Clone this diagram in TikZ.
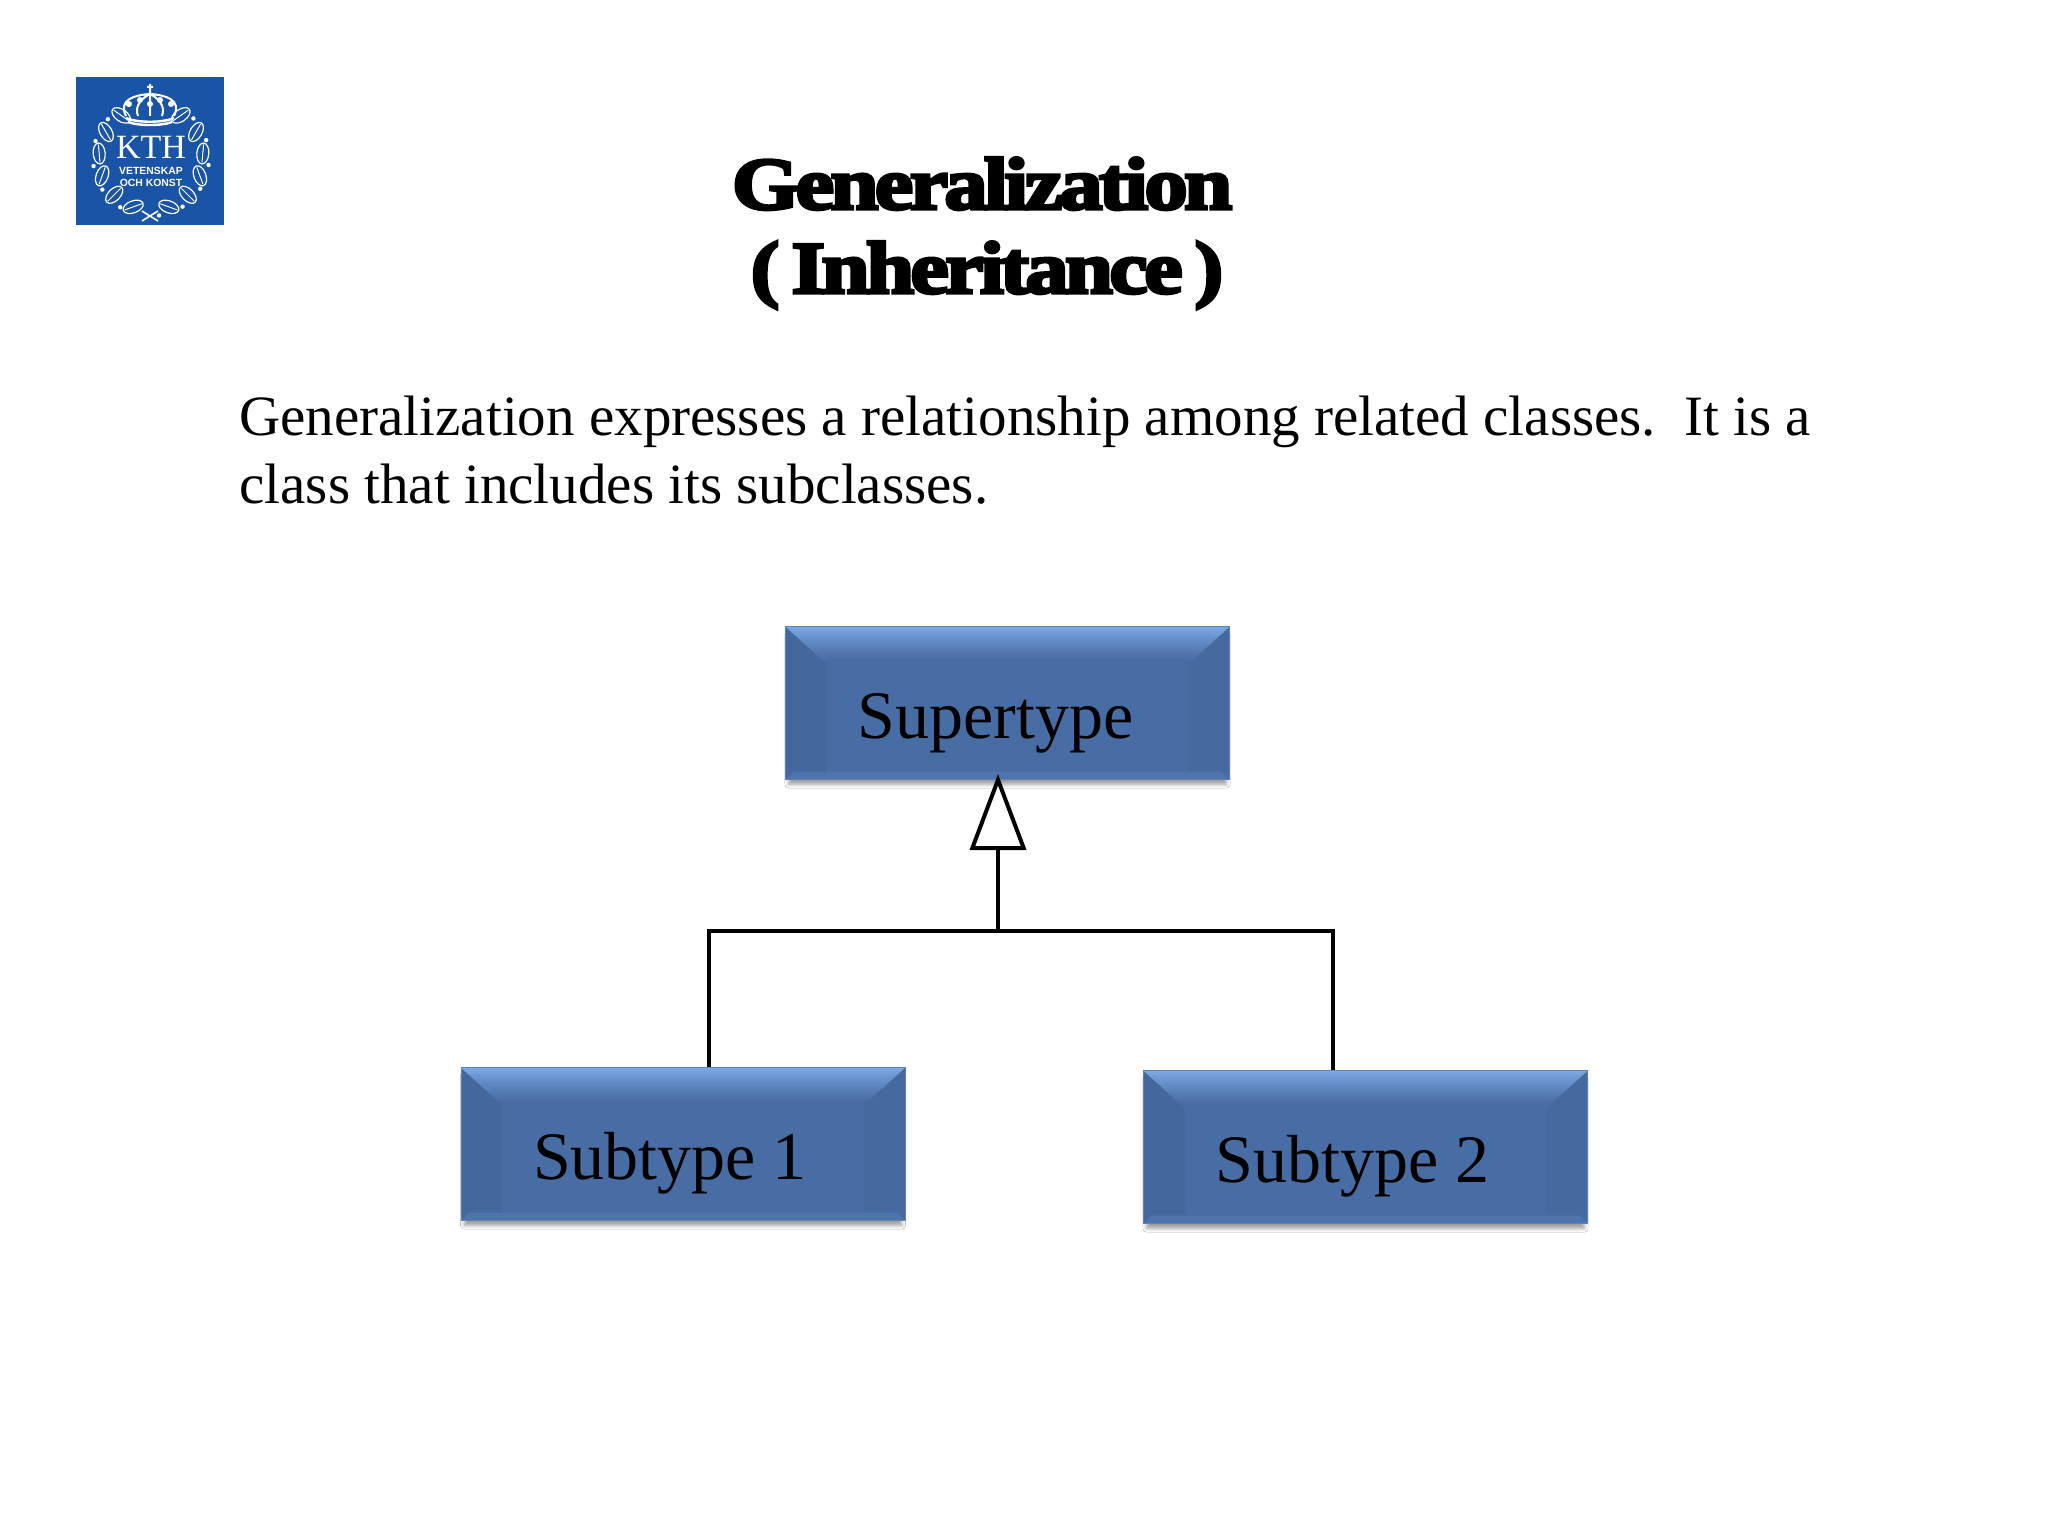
\documentclass[tikz,border=0pt]{standalone}
\usepackage{fontspec}
\setmainfont{Liberation Serif}
\newfontfamily\grasfont[FakeBold=4.5,FakeStretch=1.17,LetterSpace=-5]{Liberation Serif Bold}
\newfontfamily\logofont{Liberation Sans Bold}
\usetikzlibrary{calc,                      % Calculs de coordonnées entre $ $
           arrows.meta,                    % Pour la pointe triangle
           shadows.blur}
\definecolor{bleubox}{RGB}{72,109,165}
\definecolor{bleuclair}{RGB}{124,168,228}
\definecolor{bleubord}{RGB}{97,131,178}
\definecolor{bleukth}{RGB}{25,84,166}
\tikzset{
  boite/.style={fill=bleubox,draw=bleubord,line width=0.5pt,minimum width=222pt,minimum height=76.5pt,
    text width=150pt,inner xsep=36pt,inner ysep=0pt,align=flush left,
    text height=40pt,text depth=5pt,font=\fontsize{34}{40}\selectfont,
    blur shadow={shadow xshift=0pt,shadow yshift=-3pt,shadow scale=0.985,shadow blur radius=2pt,shadow opacity=40},
    path picture={
      \coordinate (HG) at (path picture bounding box.north west);
      \coordinate (HD) at (path picture bounding box.north east);
      \coordinate (BG) at (path picture bounding box.south west);
      \coordinate (BD) at (path picture bounding box.south east);
      \fill[bleubox!95!black] (HG) -- ($(HG)+(41,37)$) -- ($(BG)+(41,-8)$) -- (BG) -- cycle;
      \fill[bleubox!97!black] (HD) -- ($(HD)+(-41,37)$) -- ($(BD)+(-41,-8)$) -- (BD) -- cycle;
      \foreach \i in {0,...,18}{
        \pgfmathsetmacro{\m}{100*(1-\i/18)^1.3}
        \fill[bleuclair!\m!bleubox] ($(HG)+(\i*41/19,\i*37/19)$) -- ($(HD)+(-\i*41/19,\i*37/19)$)
           -- ($(HD)+(-\i*41/19-41/19,\i*37/19+37/19+0.5)$) -- ($(HG)+(\i*41/19+41/19,\i*37/19+37/19+0.5)$) -- cycle;
      }
      \fill[bleubox!88!bleuclair] (BG) -- (BD) -- ($(BD)+(-8,-8)$) -- ($(BG)+(8,-8)$) -- cycle;
    }},
  lien/.style={line width=2pt,black},
  feuille/.style={draw=white,line width=0.6pt,fill=bleukth}
}
\begin{document}
\begin{tikzpicture}[x=0.5pt,y=-0.5pt]
\useasboundingbox[fill=white] (0,0) rectangle (2048,1536);
\fill[bleukth] (76,77) rectangle (224,225);
\foreach \a in {-55,-30,-5,20,45,70,110,135,160,185,210,235}{
  \draw[feuille,shift={({151+52*cos(\a)},{158+52*sin(\a)})},rotate=\a+90] (0,0) ellipse (10.5 and 6);
  \draw[white,line width=0.5pt,shift={({151+52*cos(\a)},{158+52*sin(\a)})},rotate=\a+90] (-9,0) -- (9,0);
  \fill[white,shift={({151+58*cos(\a+12)},{158+58*sin(\a+12)})}] (0,0) circle (2.2);
}
\draw[white,line width=0.8pt] (142,211) -- (158,221) (142,221) -- (158,211);
\draw[white,line width=1.2pt] (126,118) .. controls (137,123) and (163,123) .. (174,118)
   (128,122) .. controls (138,126) and (162,126) .. (172,122);
\draw[white,line width=1pt] (126,116) .. controls (118,100) and (134,95) .. (150,94)
   .. controls (166,95) and (182,100) .. (174,116)
   (138,116) .. controls (134,106) and (142,98) .. (150,94)
   .. controls (158,98) and (166,106) .. (162,116) (150,94) -- (150,116)
   (150,94) -- (150,84) (147,87) -- (153,87);
\fill[white] (129,104) circle (3) (140,100) circle (3) (160,100) circle (3) (171,104) circle (3)
   (150,104) circle (3);
\node[inner sep=0,anchor=base,text=white,font=\fontsize{17}{17}\selectfont] (KTH) at (151,158) {KTH};
\node[inner sep=0,anchor=base,text=white,font=\logofont\fontsize{5.2}{6}\selectfont] (Vet) at (151,174) {VETENSKAP};
\node[inner sep=0,anchor=base,text=white,font=\logofont\fontsize{5.2}{6}\selectfont] (Och) at (151,186) {OCH KONST};

\node[inner sep=0,anchor=base,font=\grasfont\fontsize{37}{42}\selectfont] (Titre1) at (982,209) {Generalization};
\node[inner sep=0,anchor=base,font=\grasfont\fontsize{37}{42}\selectfont] (Titre2) at (987,293) {(\kern6pt Inheritance\kern6pt)};

\node[inner sep=0,anchor=base west,font=\fontsize{28.5}{34}\selectfont] (Texte1) at (239,435)
   {Generalization expresses a relationship among related classes.\ \ It is a};
\node[inner sep=0,anchor=base west,font=\fontsize{28.5}{34}\selectfont] (Texte2) at (239,503)
   {class that includes its subclasses.};

\node[boite] (Super) at (1007.5,703) {Supertype};
\node[boite] (Sub1) at (683,1144) {Subtype 1};
\node[boite] (Sub2) at (1365.5,1147) {Subtype 2};

\coordinate (Jonction) at (998,931);
\draw[lien,shorten >=-3pt,-{Triangle[open,fill=white,length=38pt,width=28pt,line width=2pt]}] (Jonction) -- (Jonction |- Super.south);
\draw[lien] ($(Sub1.north west)+(248,0)$) |- (Jonction);
\draw[lien] ($(Sub2.north west)+(190,0)$) |- (Jonction);
\end{tikzpicture}
\end{document}
